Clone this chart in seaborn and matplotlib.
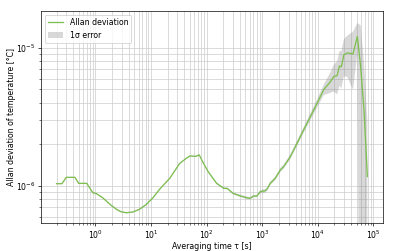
import numpy as np
import pandas as pd
import matplotlib
matplotlib.use("Agg")
import matplotlib.pyplot as plt
import seaborn as sns

# Averaging time (s) and Allan deviation (degC)
tau = [0.2, 0.25, 0.3, 0.35, 0.43, 0.5, 0.6, 0.7, 0.9, 1.05, 1.35, 1.9, 2.4, 2.9,
       3.6, 4.7, 6.2, 8.3, 10.9, 14.4, 21.8, 33, 43.6, 50, 64, 74, 85, 107, 152,
       205, 235, 300, 400, 525, 610, 700, 805, 925, 1150, 1250, 1400, 1725, 2125,
       2440, 3220, 4260, 5600, 7400, 9800, 12900, 17000, 19500, 22400, 24700,
       26700, 29600, 34000, 43300, 51800, 59400, 68200, 78500]
adev = [1.04, 1.04, 1.155, 1.155, 1.155, 1.045, 1.045, 1.045, 0.895, 0.88, 0.823,
        0.728, 0.678, 0.651, 0.641, 0.648, 0.678, 0.737, 0.823, 0.95, 1.137, 1.46,
        1.59, 1.65, 1.64, 1.68, 1.50, 1.27, 1.046, 0.962, 0.962, 0.885, 0.85,
        0.823, 0.815, 0.846, 0.846, 0.91, 0.925, 0.96, 1.046, 1.137, 1.306, 1.38,
        1.63, 2.04, 2.55, 3.18, 3.98, 5.0, 5.7, 6.2, 6.3, 7.4, 7.3, 8.9, 9.2,
        9.05, 12.1, 7.3, 3.56, 1.17]
# relative 1 sigma error
rel_err = [0.01, 0.01, 0.01, 0.01, 0.01, 0.01, 0.01, 0.01, 0.01, 0.01, 0.01,
           0.01, 0.01, 0.01, 0.01, 0.01, 0.01, 0.01, 0.01, 0.01, 0.01, 0.01,
           0.01, 0.01, 0.01, 0.01, 0.01, 0.015, 0.015, 0.015, 0.015, 0.015, 0.02,
           0.02, 0.02, 0.02, 0.02, 0.025, 0.03, 0.03, 0.03, 0.03, 0.035, 0.035,
           0.04, 0.045, 0.05, 0.06, 0.07, 0.09, 0.17, 0.22, 0.27, 0.28, 0.3, 0.3,
           0.33, 0.45, 0.25, 1.0, 1.2, 1.5]

df = pd.DataFrame({"tau": tau, "adev": np.array(adev) * 1e-6})
df["err"] = df["adev"] * np.array(rel_err)
lower = np.clip(df["adev"] - df["err"], 1e-9, None)
upper = df["adev"] + df["err"]

plt.rcParams["font.size"] = 9
plt.rcParams["xtick.major.pad"] = 2.5
plt.rcParams["ytick.major.pad"] = 2.5

# the reference looks like a default-size figure shrunk down, so use a low dpi
DPI = 62
fig = plt.figure(figsize=(396 / DPI, 251 / DPI), dpi=DPI)
ax = fig.add_axes([0.1035, 0.1116, 0.8635, 0.8446])
ax.set_xscale("log")
ax.set_yscale("log")

ax.fill_between(df["tau"], lower, upper, color="gray", alpha=0.3, linewidth=0,
                label="1\u03c3 error")
sns.lineplot(data=df, x="tau", y="adev", color="#7dbf50", linewidth=1.5,
             label="Allan deviation", ax=ax)

ax.set_ylim(5.4e-7, 1.85e-5)
ax.set_xlabel("Averaging time \u03c4 [s]", labelpad=2)
ax.set_ylabel("Allan deviation of temperature [\u00b0C]", labelpad=0.5)
ax.grid(True, which="both", color="0.8")
ax.set_axisbelow(True)

h, l = ax.get_legend_handles_labels()
order = [l.index("Allan deviation"), l.index("1\u03c3 error")]
ax.legend([h[i] for i in order], [l[i] for i in order], loc="upper left")

fig.savefig("out.png", dpi=DPI)
